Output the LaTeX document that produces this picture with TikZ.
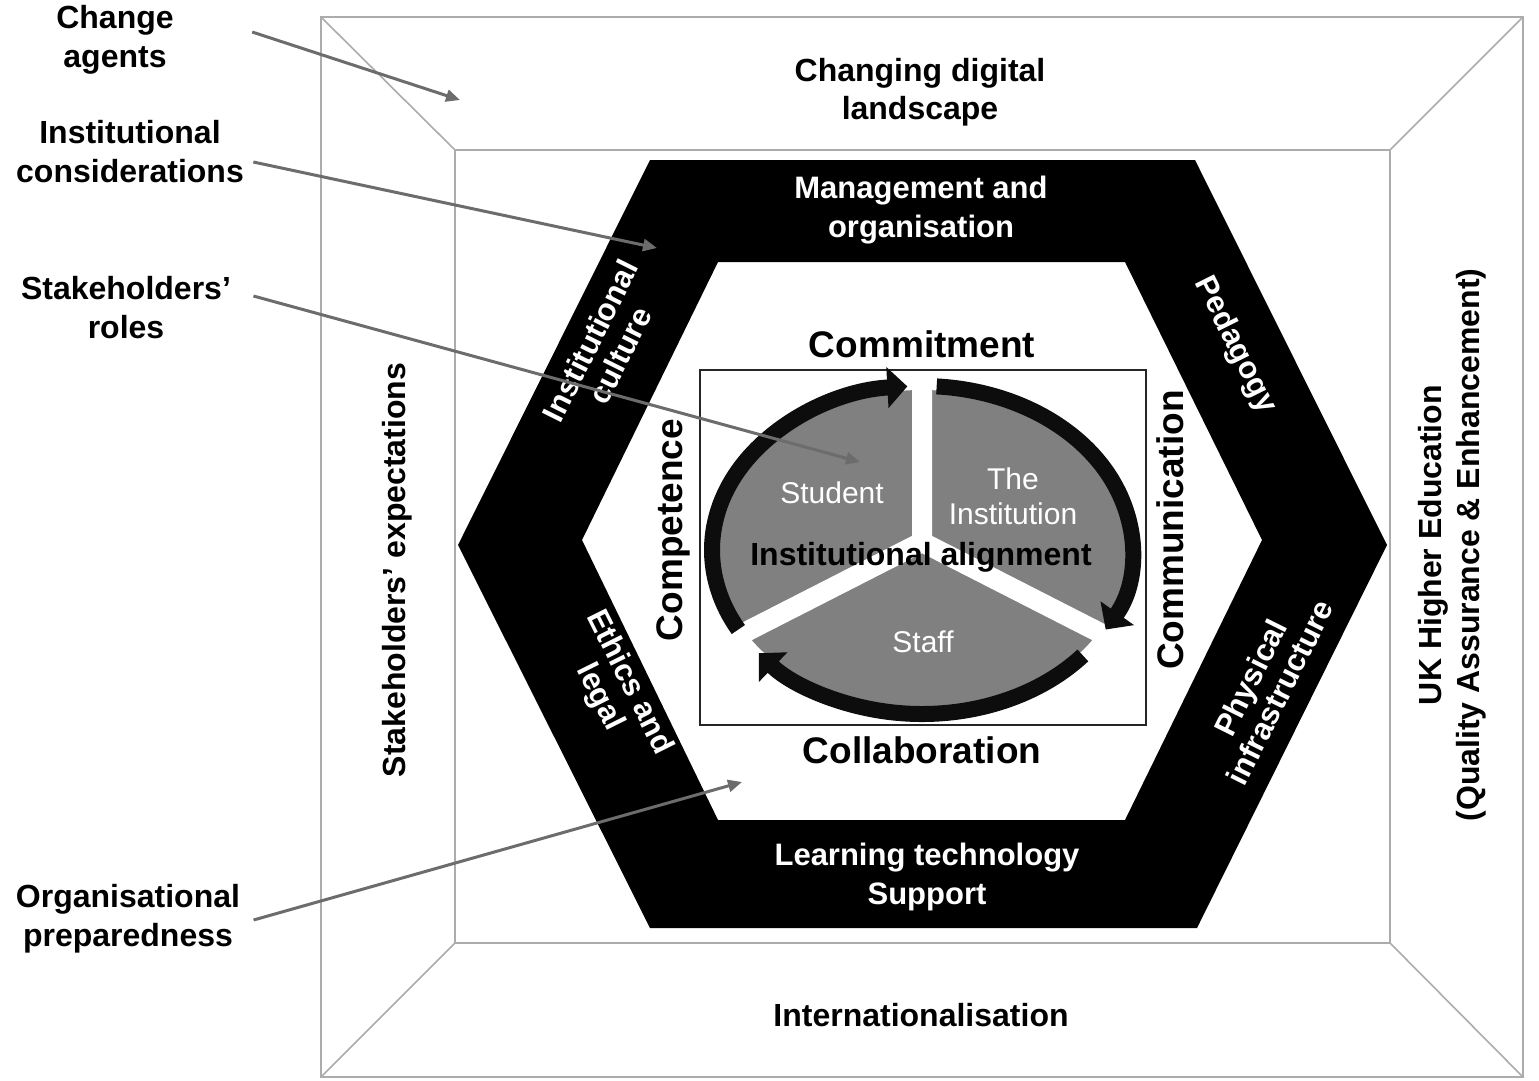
\documentclass[tikz,border=0pt]{standalone}
\usepackage{fontspec}
\setmainfont{Liberation Sans}
\usetikzlibrary{arrows.meta,positioning}

\begin{document}
\begin{tikzpicture}[
    x=1pt, y=-1pt,
    frame/.style={draw=gray!65, line width=1.6pt},
    framelabel/.style={font=\fontsize{32}{38}\selectfont\bfseries, align=center},
    bandlabel/.style={text=white, font=\fontsize{31}{39}\selectfont\bfseries, align=center},
    slantlabel/.style={bandlabel, font=\fontsize{31}{33}\selectfont\bfseries},
    sidenote/.style={font=\fontsize{32}{39}\selectfont\bfseries, align=center},
    keyword/.style={font=\fontsize{37}{40}\selectfont\bfseries},
    sector/.style={text=white, font=\fontsize{30}{35}\selectfont, align=center},
    ring/.style={draw=black!95, line width=16pt, -{Triangle[length=20pt, width=40pt]}},
    pointer/.style={draw=gray!85!black, line width=3pt, -{Triangle[length=14pt, width=12pt]}}
]
\useasboundingbox (0,0) rectangle (1539,1080);

% Outer frame with its four trapezoids
\draw[frame] (321,17) rectangle (1523,1077);
\draw[frame] (455,150) rectangle (1390,943);
\draw[frame] (321,17) -- (455,150) (1523,17) -- (1390,150)
             (321,1077) -- (455,943) (1523,1077) -- (1390,943);

% Hexagon band
\fill[black, even odd rule]
    (650,160) -- (1195,160) -- (1387,545) -- (1197,928) -- (650,928) -- (458,545) -- cycle
    (718,262) -- (1125,262) -- (1262,540) -- (1125,820) -- (718,820) -- (582,540) -- cycle;

% Box round the cycle
\draw[draw=gray!30!black, line width=1.5pt] (700,370) rectangle (1146,725);

% Cycle: grey disc cut in three, with the arrows round it
\fill[gray] (922,550) ellipse[x radius=206, y radius=160];
\draw[white, line width=20pt] (922,542) -- (922,376)
                              (922,542) -- (730,640)
                              (922,542) -- (1114,640);
\draw[ring] (922,550) ++(151:210 and 164) arc[start angle=151, end angle=266, x radius=210, y radius=164];
\draw[ring] (922,550) ++(274:210 and 164) arc[start angle=274, end angle=389, x radius=210, y radius=164];
\draw[ring] (922,550) ++(40:210 and 164) arc[start angle=40, end angle=141, x radius=210, y radius=164];

% Labels of the cycle
\node[sector] (student) at (832,493) {Student};
\node[sector] (institution) at (1013,496) {The\\Institution};
\node[sector] (staff) at (923,642) {Staff};
\node[font=\fontsize{32}{36}\selectfont\bfseries] (alignment) at (921,557) {Institutional alignment};

\node[keyword] (commitment) at (922,344) {Commitment};
\node[keyword] (collaboration) at (922,750) {Collaboration};
\node[keyword, rotate=90] (competence) at (673,530) {Competence};
\node[keyword, rotate=90] (communication) at (1170,530) {Communication};

% Labels on the band
\node[bandlabel] (management) at (921,210) {Management and\\organisation};
\node[bandlabel] (support) at (927,877) {Learning technology\\Support};
\node[slantlabel, rotate=63.5] (culture) at (605,348) {Institutional\\culture};
\node[slantlabel, rotate=-63.5] (pedagogy) at (1235,345) {Pedagogy};
\node[slantlabel, rotate=-63.5] (ethics) at (614,690) {Ethics and\\legal};
\node[slantlabel, rotate=63.5] (physical) at (1265,685) {Physical\\infrastructure};

% Labels on the frame
\node[framelabel] (landscape) at (920,92) {Changing digital\\landscape};
\node[framelabel] (international) at (921,1015) {Internationalisation};
\node[framelabel, rotate=90] (expectations) at (397,570) {Stakeholders’ expectations};
\node[framelabel, rotate=90] (ukhe) at (1452,545) {UK Higher Education\\(Quality Assurance \& Enhancement)};

% Notes on the left
\node[sidenote] (agents) at (115,40) {Change\\agents};
\node[sidenote] (considerations) at (130,152) {Institutional\\considerations};
\node[sidenote] (roles) at (126,308) {Stakeholders’\\roles};
\node[sidenote] (preparedness) at (128,919) {Organisational\\preparedness};

\coordinate (agentsTip) at (460,100);
\coordinate (considerationsTip) at (657,248);
\coordinate (rolesTip) at (860,462);
\coordinate (preparednessTip) at (742,782);

\draw[pointer] ([shift={(75,-8)}]agents.east) -- (agentsTip);
\draw[pointer] ([shift={(6,10)}]considerations.east) -- (considerationsTip);
\draw[pointer] ([shift={(19,-12)}]roles.east) -- (rolesTip);
\draw[pointer] ([shift={(10,1)}]preparedness.east) -- (preparednessTip);

\end{tikzpicture}
\end{document}
